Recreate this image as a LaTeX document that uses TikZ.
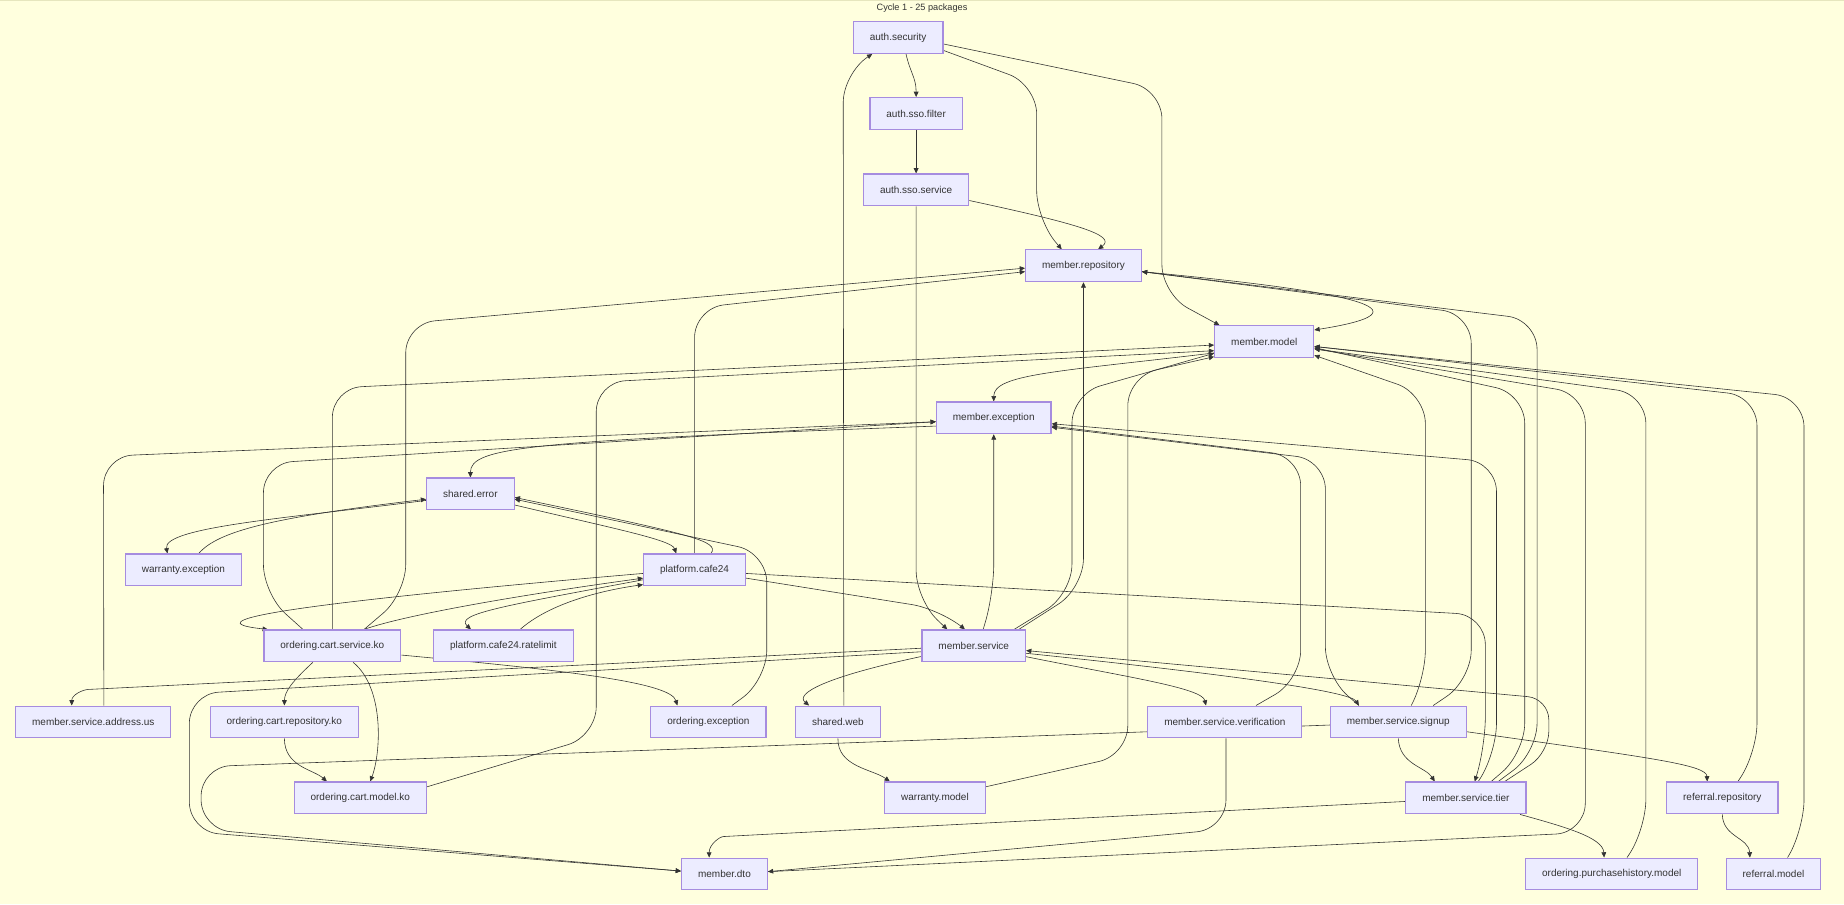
\documentclass[tikz,border=0pt]{standalone}
\usepackage{fontspec}
\setmainfont{Liberation Sans}
\usepackage{tikz}
\usetikzlibrary{arrows.meta}
\definecolor{paper}{HTML}{FFFFDE}
\definecolor{frameline}{HTML}{E6E6BE}
\definecolor{pkgfill}{HTML}{ECECFF}
\definecolor{pkgline}{HTML}{A68CDF}
\definecolor{ink}{HTML}{333333}
\pgfdeclarelayer{background}
\pgfdeclarelayer{wires}
\pgfsetlayers{background,wires,main}
\tikzstyle{pkg}=[
	draw=pkgline,
	fill=pkgfill,
	line width=1pt,
	text=ink,
	font=\fontsize{8.5}{10}\selectfont,
	inner xsep=14pt,
	minimum height=27pt
]
\tikzstyle{dep}=[
	draw=ink,
	line width=0.5pt,
	rounded corners=25pt,
	-{Triangle[length=4.5pt,width=4pt]}
]

\begin{document}
\begin{tikzpicture}[x=1pt,y=-1pt]
\useasboundingbox (0,0) rectangle (1568,769);
\begin{pgfonlayer}{background}
\fill[paper] (0,0) rectangle (1568,769);
\draw[frameline, line width=1pt] (0,0.5) -- (1568,0.5);
\end{pgfonlayer}

\node[text=ink, font=\fontsize{7.8}{9}\selectfont] (title) at (784,6.5) {Cycle 1 - 25 packages};

\node[pkg] (authsecurity) at (763.7,31.9) {auth.security};
\node[pkg] (ssofilter) at (779,96.5) {auth.sso.filter};
\node[pkg] (ssoservice) at (779,161.5) {auth.sso.service};
\node[pkg] (memberrepository) at (921.3,226) {member.repository};
\node[pkg] (membermodel) at (1075,290.6) {member.model};
\node[pkg] (memberexception) at (845,355.3) {member.exception};
\node[pkg] (sharederror) at (400,420) {shared.error};
\node[pkg] (warrantyexception) at (156,484.6) {warranty.exception};
\node[pkg] (platformcafe24) at (590.6,484.6) {platform.cafe24};
\node[pkg] (cartservice) at (282.6,549.2) {ordering.cart.service.ko};
\node[pkg] (ratelimit) at (428,549.2) {platform.cafe24.ratelimit};
\node[pkg] (memberservice) at (828,549.2) {member.service};
\node[pkg] (addressus) at (79.3,613.9) {member.service.address.us};
\node[pkg] (cartrepository) at (241.8,613.9) {ordering.cart.repository.ko};
\node[pkg] (orderingexception) at (602.4,613.9) {ordering.exception};
\node[pkg] (sharedweb) at (712.5,613.9) {shared.web};
\node[pkg] (verification) at (1041.5,613.9) {member.service.verification};
\node[pkg] (signup) at (1189,613.9) {member.service.signup};
\node[pkg] (cartmodel) at (306.4,678.5) {ordering.cart.model.ko};
\node[pkg] (warrantymodel) at (795,678.5) {warranty.model};
\node[pkg] (tier) at (1246.5,678.5) {member.service.tier};
\node[pkg] (referralrepository) at (1464.5,678.5) {referral.repository};
\node[pkg] (memberdto) at (616,743.2) {member.dto};
\node[pkg] (purchasehistory) at (1370.5,743.2) {ordering.purchasehistory.model};
\node[pkg] (referralmodel) at (1508,743.2) {referral.model};

\begin{pgfonlayer}{wires}
\draw[dep] ([xshift=6.7pt]authsecurity.south) .. controls (774,62) and (779,66) .. (ssofilter.north);
\draw[dep] (ssofilter) to (ssoservice);
\draw[dep] ([yshift=-11pt]authsecurity.east) -- (881.5,72) -- (881.5,187) -- ([xshift=-18.5pt]memberrepository.north);
\draw[dep] ([yshift=-9pt]ssoservice.east) .. controls (915,190) and (950,200) .. ([xshift=12.4pt]memberrepository.north);
\draw[dep] ([yshift=-5.5pt]authsecurity.east) -- (988,76) -- (988,250) -- ([xshift=-38pt]membermodel.north);
\draw[dep] ([xshift=5pt]sharedweb.north) -- (717,62) -- ([xshift=-22pt]authsecurity.south);
\draw[dep] (ssoservice.south) -- (779,510) -- ([xshift=-22.5pt]memberservice.north);
\draw[dep] ([yshift=-5pt]memberrepository.east) .. controls (1120,245) and (1235,262) .. ([yshift=10pt]membermodel.east);

\draw[dep] ([xshift=38.3pt]memberservice.north) -- (921.3,500) -- (memberrepository.south);
\draw[dep] ([xshift=34.3pt]memberservice.north) -- (911.5,505) -- (911.5,335) -- ([yshift=-9.8pt]membermodel.west);
\draw[dep] ([xshift=8pt]memberservice.north) -- (845,505) -- (memberexception.south);
\draw[dep] ([yshift=-7pt]platformcafe24.east) -- (800,518) -- ([xshift=-7.5pt]memberservice.north);
\draw[dep] (cartservice.north) -- (282.6,330) -- ([yshift=-2.8pt]membermodel.west);
\draw[dep] ([yshift=9.5pt]cartmodel.east) -- (507,626) -- (507,325) -- ([yshift=-7.6pt]membermodel.west);
\draw[dep] ([yshift=9.5pt]warrantymodel.east) -- (959,642) -- (959,320) -- ([yshift=-12.7pt]membermodel.west);
\draw[dep] ([yshift=-9.5pt]membermodel.west) .. controls (900,316) and (845,318) .. (memberexception.north);

\draw[dep] ([xshift=11pt]signup.north) -- (1212,578) -- (1212,335) -- ([yshift=-11.5pt]membermodel.east);
\draw[dep] ([xshift=21.5pt]tier.north) -- (1296.5,640) -- (1296.5,335) -- ([yshift=-5pt]membermodel.east);
\draw[dep] ([xshift=13.3pt]referralrepository.north) -- (1494,640) -- (1494,337) -- ([yshift=-4pt]membermodel.east);
\draw[dep] ([xshift=12pt]referralmodel.north) -- (1534,705) -- (1534,338) -- ([yshift=-4pt]membermodel.east);
\draw[dep] ([xshift=13pt]purchasehistory.north) -- (1399.5,705) -- (1399.5,335) -- ([yshift=-6pt]membermodel.east);
\draw[dep] ([yshift=2pt]memberdto.east) -- (1348,708) -- (1348,335) -- ([yshift=-6pt]membermodel.east);
\draw[dep] ([xshift=29.7pt]signup.north) -- (1251,578) -- (1251,267) -- ([yshift=-5pt]memberrepository.east);
\draw[dep] ([xshift=27.5pt]tier.north) -- (1307,640) -- (1307,272) -- ([yshift=-5pt]memberrepository.east);
\draw[dep] ([xshift=10.5pt]tier.north) -- (1272.5,640) -- (1272.5,393) -- ([yshift=-5pt]memberexception.east);
\draw[dep] ([xshift=26.5pt]verification.north) -- (1106,578) -- (1106,388) -- ([yshift=-7pt]memberexception.east);
\draw[dep] ([xshift=-33.5pt]signup.north) -- (1127,575) -- (1127,391) -- ([yshift=-8pt]memberexception.east);
\draw[dep, rounded corners=18pt] ([xshift=33pt]tier.north) -- (1317,640) -- (1317,594) -- ([yshift=-4pt]memberservice.east);
\draw[dep] ([yshift=-3pt]platformcafe24.east) -- (1263,523) -- (1263,635) -- ([xshift=7.5pt]tier.north);

\draw[dep] ([yshift=-2pt]memberservice.west) -- (100,585) .. controls (70,586.5) and (61,591) .. ([xshift=-18.3pt]addressus.north);
\draw[dep] ([yshift=-5pt]memberservice.west) -- (161,590) -- (161,707) -- ([yshift=2.5pt]memberdto.west);
\draw[dep] ([yshift=-2.6pt]signup.west) -- (171,652) -- (171,705) -- ([yshift=2.5pt]memberdto.west);
\draw[dep] ([xshift=1pt]verification.south) -- (1042.5,705) -- ([yshift=2pt]memberdto.east);
\draw[dep] ([yshift=-3pt]tier.west) -- (640,710) .. controls (612,711.5) and (603,718) .. ([xshift=-13pt]memberdto.north);
\draw[dep] ([xshift=46pt]tier.south) .. controls (1330,703) and (1363,712) .. ([xshift=-6.5pt]purchasehistory.north);
\draw[dep] (referralrepository.south) .. controls (1465,712) and (1487,712) .. ([xshift=-20pt]referralmodel.north);
\draw[dep] ([yshift=-8.3pt]signup.east) .. controls (1400,644) and (1451,650) .. ([xshift=-12.8pt]referralrepository.north);
\draw[dep] (signup.south) .. controls (1190,650) and (1212,652) .. ([xshift=-26.5pt]tier.north);

\draw[dep] ([xshift=9pt]addressus.north) -- (88,388) -- ([yshift=-3.3pt]memberexception.west);
\draw[dep] ([xshift=20pt]orderingexception.north) -- (652,578) -- (652,470) -- ([yshift=-4.5pt]sharederror.east);
\draw[dep] ([yshift=-9pt]memberservice.west) .. controls (700,576) and (676,590) .. ([xshift=-24.5pt]sharedweb.north);
\draw[dep] (sharedweb.south) .. controls (712,652) and (742,654) .. ([xshift=-38.4pt]warrantymodel.north);
\draw[dep] ([xshift=-16.6pt]cartservice.south) .. controls (248,580) and (242,588) .. (cartrepository.north);
\draw[dep] ([xshift=17.7pt]cartservice.south) .. controls (327,585) and (324,640) .. ([xshift=8.4pt]cartmodel.north);
\draw[dep] (cartrepository.south) .. controls (242,652) and (266,654) .. ([xshift=-28.4pt]cartmodel.north);
\draw[dep] ([yshift=-7.8pt]cartservice.east) .. controls (480,570) and (570,580) .. ([xshift=-26.4pt]orderingexception.north);
\draw[dep] ([xshift=-25pt]cartservice.north) -- (224,505) -- (224,394) -- ([yshift=-3.3pt]memberexception.west);
\draw[dep] ([xshift=27pt]cartservice.north) -- (345,505) -- (345,275) -- ([yshift=-2pt]memberrepository.west);
\draw[dep] (platformcafe24.north) -- (590.6,262) -- ([yshift=-5pt]memberrepository.west);

\draw[dep] ([yshift=-7pt]memberexception.west) .. controls (450,375) and (400,380) .. (sharederror.north);
\draw[dep] ([yshift=-5.5pt]sharederror.west) .. controls (250,440) and (138,448) .. ([xshift=-13.6pt]warrantyexception.north);
\draw[dep] ([xshift=13pt]warrantyexception.north) .. controls (185,452) and (230,440) .. ([yshift=-4.5pt]sharederror.west);
\draw[dep] ([yshift=-9.4pt]sharederror.east) .. controls (520,449) and (571,459) .. ([xshift=-15.6pt]platformcafe24.north);
\draw[dep] ([xshift=14pt]platformcafe24.north) .. controls (612,460) and (590,455) .. ([yshift=-3pt]sharederror.east);
\draw[dep] ([xshift=27pt]cartservice.north) .. controls (338,525) and (420,509) .. ([yshift=-7pt]platformcafe24.west);
\draw[dep] ([yshift=-3pt]platformcafe24.west) .. controls (250,513) and (160,528) .. ([xshift=-54.8pt]cartservice.north);
\draw[dep] ([yshift=-8.4pt]platformcafe24.west) .. controls (430,515) and (386,522) .. ([xshift=-27.5pt]ratelimit.north);
\draw[dep] ([xshift=14.3pt]ratelimit.north) .. controls (465,515) and (505,503) .. ([yshift=-12.5pt]platformcafe24.west);
\draw[dep] ([yshift=-9.2pt]memberservice.east) .. controls (960,576) and (1022,585) .. ([xshift=-16pt]verification.north);
\draw[dep] ([yshift=-6.3pt]memberservice.east) .. controls (1050,574) and (1148,588) .. ([xshift=-33.5pt]signup.north);
\end{pgfonlayer}
\end{tikzpicture}
\end{document}
